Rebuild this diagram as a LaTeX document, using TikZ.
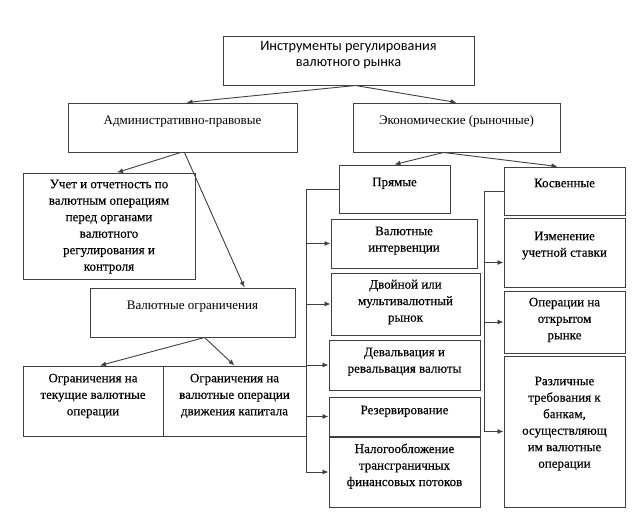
\documentclass[tikz,border=0pt]{standalone}
\usepackage{fontspec}
\setmainfont{Liberation Serif}
\newfontfamily\calibri{Carlito}
\newfontfamily\heavyserif[FakeBold=0.35]{Liberation Serif}
\usetikzlibrary{arrows.meta,fit}

\tikzset{
  box/.style={draw=black!75, line width=1pt, inner sep=0pt},
  txt/.style={align=center, inner sep=1pt, font=\fontsize{13}{16.5}\selectfont},
  txth/.style={txt, font=\heavyserif\fontsize{13}{16.5}\selectfont},
  arr/.style={draw=black!75, line width=0.9pt, -{Latex[length=6pt,width=5pt]}}
}

\begin{document}
\begin{tikzpicture}[x=1pt,y=-1pt]
  \useasboundingbox (0,0) rectangle (639,525);

  % head
  \node[box, fit={(223,36) (474,85)}] (head) {};
  \node[txt, anchor=north, font=\calibri\fontsize{14.3}{16}\selectfont] (head-t) at ([yshift=-5pt]head.north) {Инструменты регулирования\\валютного рынка};

  % boxes: name / corners / text shift / style / text
  \foreach \n/\xa/\ya/\xb/\yb/\s/\st/\lbl in {
      admin/68/103/297/152/12/txt/{Административно-правовые},
      econ/353/103/560/152/12/txt/{Экономические (рыночные)},
      uchet/23/173/195/279/6/txth/{Учет и отчетность по\\валютным операциям\\перед органами\\валютного\\регулирования и\\контроля},
      valogr/90/288/295/337/12/txt/{Валютные ограничения},
      curop/23/366/163/436/7/txth/{Ограничения на\\текущие валютные\\операции},
      capop/163/366/306/436/7/txth/{Ограничения на\\валютные операции\\движения капитала},
      pry/339/165/450/213/12/txth/{Прямые},
      kos/504/167/625/215/11/txth/{Косвенные},
      intv/331/219/477/268/7/txth/{Валютные\\интервенции},
      dual/331/273/480/335/6/txth/{Двойной или\\мультивалютный\\рынок},
      deval/329/340/480/390/7/txth/{Девальвация и\\ревальвация валюты},
      rez/329/397/480/436/8/txth/{Резервирование},
      tax/329/437/480/507/6/txth/{Налогообложение\\трансграничных\\финансовых потоков},
      izm/504/218/625/287/13/txth/{Изменение\\учетной ставки},
      open/504/291/625/353/6/txth/{Операции на\\открытом\\рынке},
      req/504/356/625/507/20/txth/{Различные\\требования к\\банкам,\\осуществляющ\\им валютные\\операции}} {
    \node[box, fit={(\xa,\ya) (\xb,\yb)}] (\n) {};
    \node[\st, anchor=north] (\n-t) at ([yshift=-\s pt]\n.north) {\lbl};
  }

  % tree arrows
  \draw[arr] ([xshift=7pt]head.south) -- ([xshift=4pt]admin.north);
  \draw[arr] ([xshift=7pt]head.south) -- (econ.north);
  \draw[arr] ([xshift=-2pt]admin.south) -- ([xshift=8pt]uchet.north);
  \draw[arr] ([xshift=2pt]admin.south) -- ([xshift=52pt]valogr.north);
  \draw[arr] ([xshift=12pt]valogr.south) -- ([xshift=7pt]curop.north);
  \draw[arr] ([xshift=12pt]valogr.south) -- (capop.north);
  \draw[arr] ([xshift=-13pt]econ.south) -- (pry.north);
  \draw[arr] ([xshift=-13pt]econ.south) -- ([xshift=-7pt]kos.north);

  % buses
  \coordinate (pbus) at (306,0);
  \coordinate (kbus) at (484,0);
  \draw[arr] (pry.west) -| (pbus |- tax.west) -- (tax.west);
  \foreach \b in {intv,dual,deval,rez}
    \draw[arr] (pbus |- \b.west) -- (\b.west);
  \draw[arr] (kos.west) -| (kbus |- req.west) -- (req.west);
  \draw[arr] (kbus |- open.west) -- (open.west);
  \draw[arr] (kbus |- izm.west) ++(0,10) -- ([yshift=-10pt]izm.west);
\end{tikzpicture}
\end{document}
